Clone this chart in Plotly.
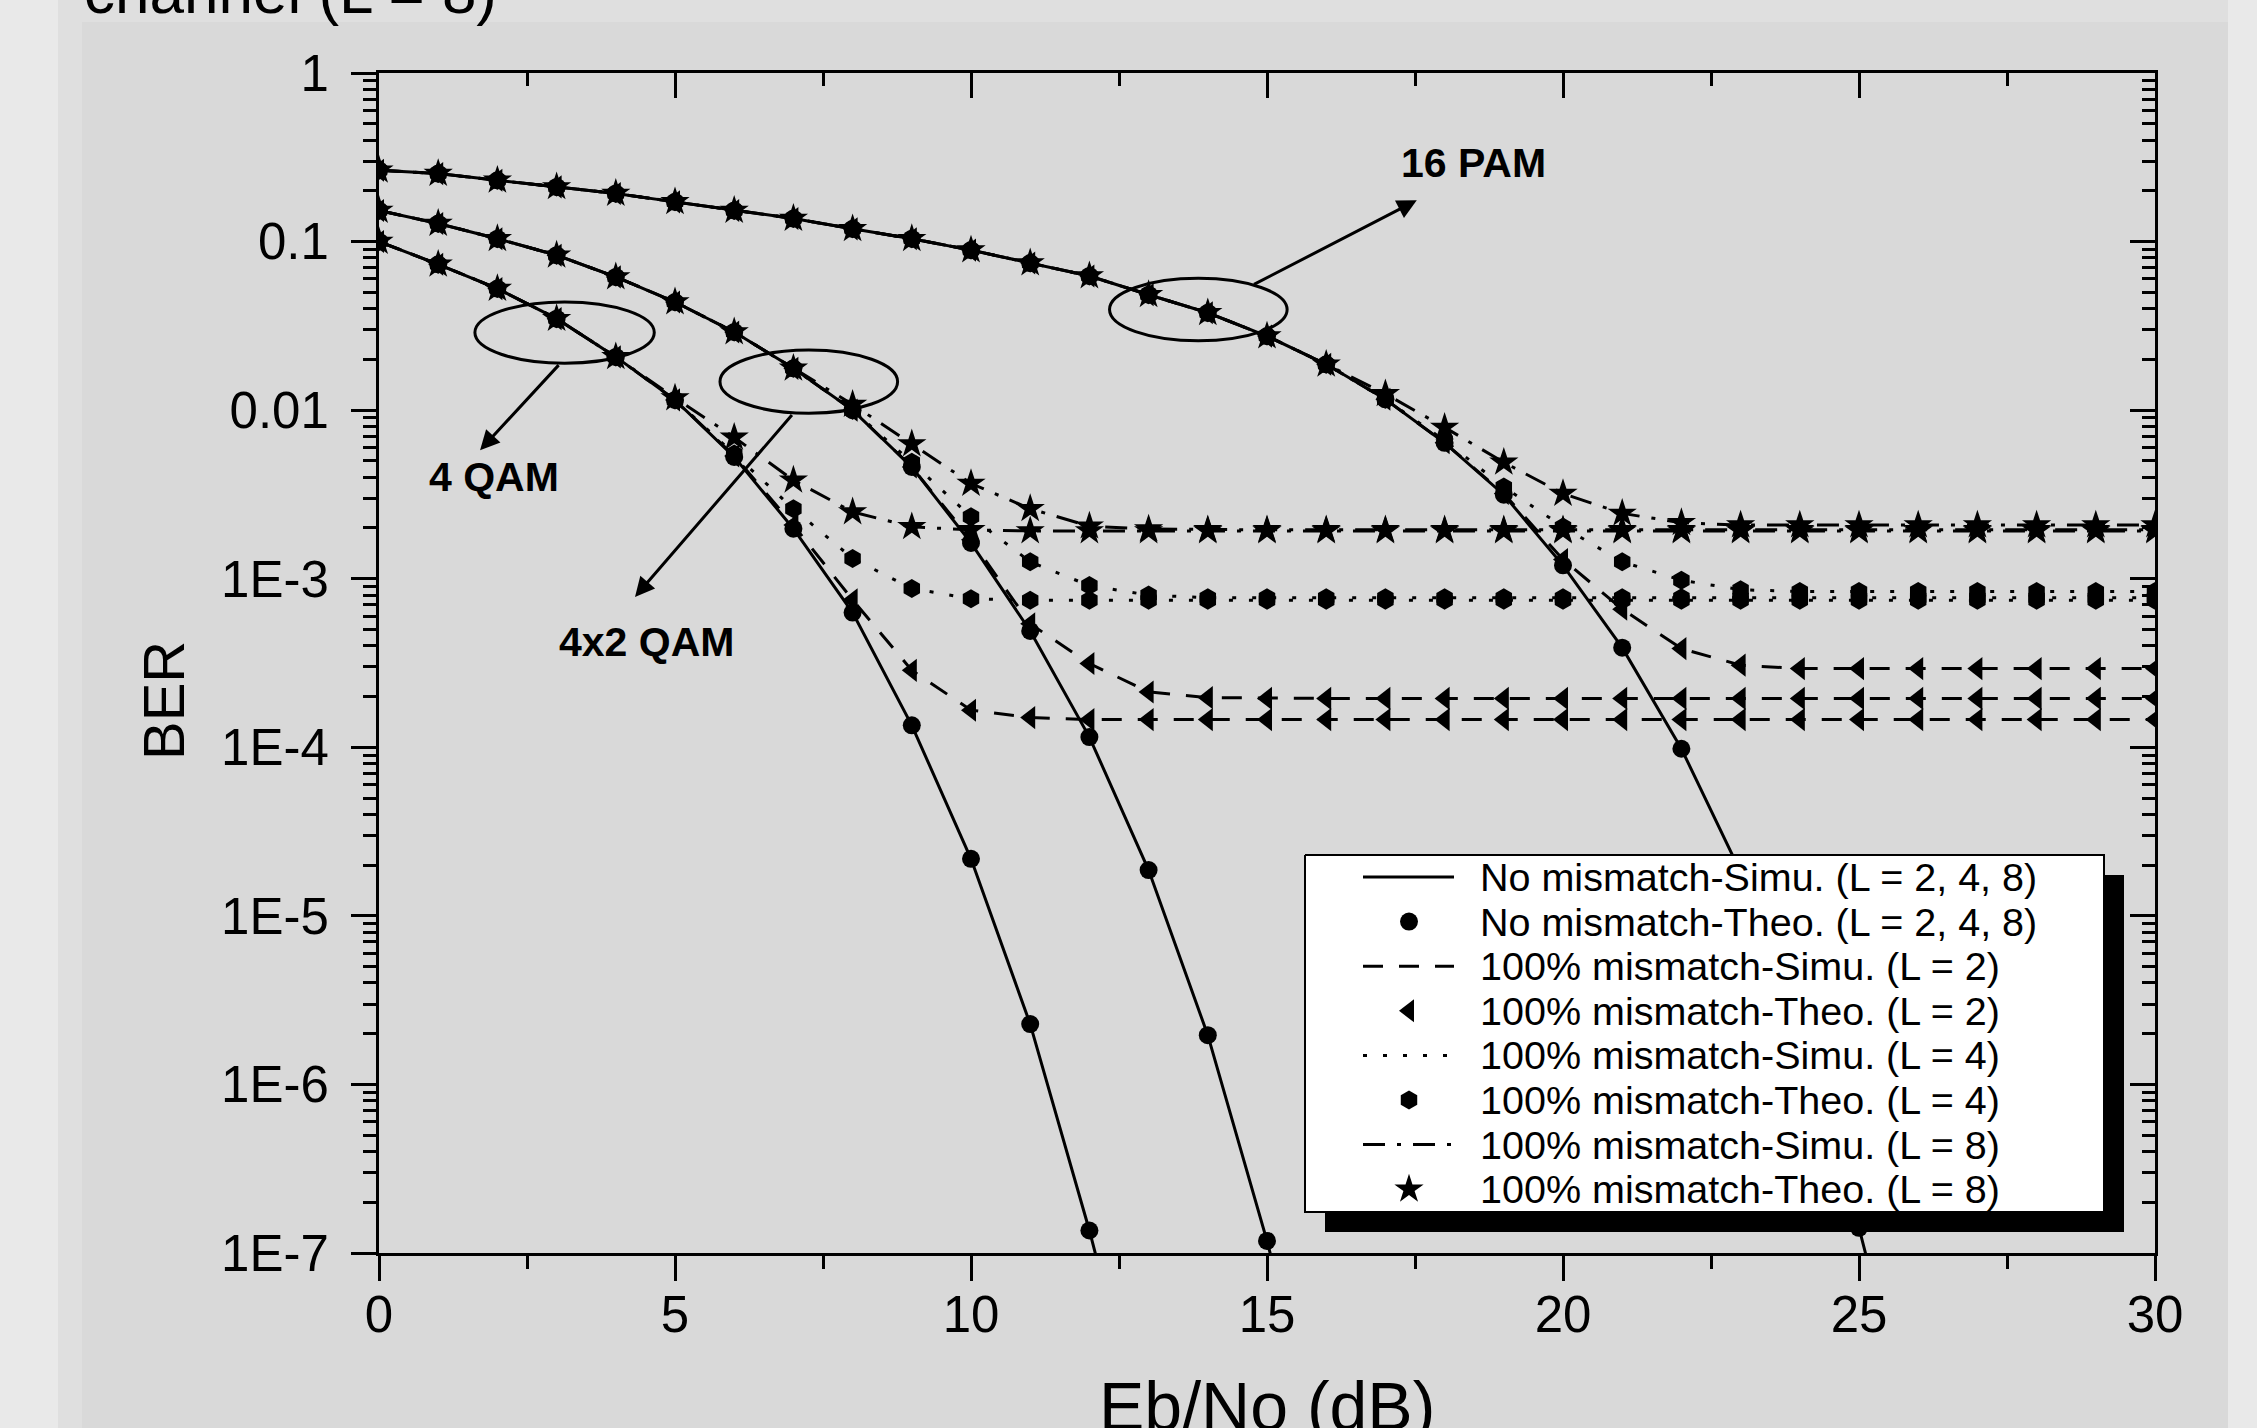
import plotly.graph_objects as go

# ---------------- data ----------------
snr = list(range(0, 31))  # Eb/No (dB)

# No mismatch (simulation line and theory markers coincide)
qam4_nm_x = list(range(0, 14))
qam4_nm = [0.100, 0.0733, 0.0526, 0.0349, 0.0207, 0.0115, 0.00528, 0.00198,
           6.3e-4, 1.35e-4, 2.18e-5, 2.28e-6, 1.36e-7, 6e-9]
qam42_nm_x = list(range(0, 17))
qam42_nm = [0.153, 0.128, 0.104, 0.083, 0.0617, 0.0438, 0.0291, 0.0177, 0.0100,
            4.6e-3, 1.63e-3, 4.9e-4, 1.15e-4, 1.87e-5, 1.96e-6, 1.18e-7, 5e-9]
pam16_nm_x = list(range(0, 27))
pam16_nm = [0.265, 0.253, 0.231, 0.211, 0.193, 0.172, 0.153, 0.137, 0.119, 0.104,
            0.089, 0.0746, 0.0625, 0.0484, 0.0378, 0.0275, 0.0187, 0.0116, 6.4e-3,
            3.15e-3, 1.2e-3, 3.9e-4, 9.8e-5, 1.82e-5, 2.19e-6, 1.41e-7, 6e-9]

# 100% mismatch, L = 2
qam4_l2 = [0.100, 0.0733, 0.0526, 0.0349, 0.0207, 0.0115, 5.35e-3, 2.08e-3, 7.5e-4,
           2.86e-4, 1.66e-4, 1.50e-4, 1.46e-4, 1.46e-4, 1.46e-4, 1.46e-4, 1.46e-4,
           1.46e-4, 1.46e-4, 1.46e-4, 1.46e-4, 1.46e-4, 1.46e-4, 1.46e-4, 1.46e-4,
           1.46e-4, 1.46e-4, 1.46e-4, 1.46e-4, 1.46e-4, 1.46e-4]
qam42_l2 = [0.153, 0.128, 0.104, 0.083, 0.0617, 0.0438, 0.0291, 0.0177, 0.0100,
            4.6e-3, 1.7e-3, 5.4e-4, 3.14e-4, 2.13e-4, 1.97e-4, 1.95e-4, 1.95e-4,
            1.95e-4, 1.95e-4, 1.95e-4, 1.95e-4, 1.95e-4, 1.95e-4, 1.95e-4, 1.95e-4,
            1.95e-4, 1.95e-4, 1.95e-4, 1.95e-4, 1.95e-4, 1.95e-4]
pam16_l2 = [0.265, 0.253, 0.231, 0.211, 0.193, 0.172, 0.153, 0.137, 0.119, 0.104,
            0.089, 0.0746, 0.0625, 0.0484, 0.0378, 0.0275, 0.0187, 0.0116, 6.4e-3,
            3.2e-3, 1.3e-3, 6.6e-4, 3.85e-4, 3.07e-4, 2.93e-4, 2.93e-4, 2.93e-4,
            2.93e-4, 2.93e-4, 2.93e-4, 2.93e-4]

# 100% mismatch, L = 4
qam4_l4 = [0.100, 0.0733, 0.0526, 0.0349, 0.0207, 0.0115, 5.5e-3, 2.6e-3, 1.32e-3,
           8.75e-4, 7.6e-4, 7.45e-4, 7.45e-4, 7.45e-4, 7.45e-4, 7.45e-4, 7.45e-4,
           7.45e-4, 7.45e-4, 7.45e-4, 7.45e-4, 7.45e-4, 7.45e-4, 7.45e-4, 7.45e-4,
           7.45e-4, 7.45e-4, 7.45e-4, 7.45e-4, 7.45e-4, 7.45e-4]
qam42_l4 = [0.153, 0.128, 0.104, 0.083, 0.0617, 0.0438, 0.0291, 0.0177, 0.0100,
            4.9e-3, 2.33e-3, 1.26e-3, 9.1e-4, 8.0e-4, 7.7e-4, 7.7e-4, 7.7e-4,
            7.7e-4, 7.7e-4, 7.7e-4, 7.7e-4, 7.7e-4, 7.7e-4, 7.7e-4, 7.7e-4,
            7.7e-4, 7.7e-4, 7.7e-4, 7.7e-4, 7.7e-4, 7.7e-4]
pam16_l4 = [0.265, 0.253, 0.231, 0.211, 0.193, 0.172, 0.153, 0.137, 0.119, 0.104,
            0.089, 0.0746, 0.0625, 0.0484, 0.0378, 0.0275, 0.0187, 0.0116, 6.6e-3,
            3.5e-3, 2.03e-3, 1.26e-3, 9.8e-4, 8.6e-4, 8.4e-4, 8.4e-4, 8.4e-4,
            8.4e-4, 8.4e-4, 8.4e-4, 8.4e-4]

# 100% mismatch, L = 8
qam4_l8 = [0.100, 0.0733, 0.0526, 0.0349, 0.0207, 0.0118, 6.9e-3, 3.84e-3, 2.49e-3,
           2.03e-3, 1.95e-3, 1.92e-3, 1.92e-3, 1.92e-3, 1.92e-3, 1.92e-3, 1.92e-3,
           1.92e-3, 1.92e-3, 1.92e-3, 1.92e-3, 1.92e-3, 1.92e-3, 1.92e-3, 1.92e-3,
           1.92e-3, 1.92e-3, 1.92e-3, 1.92e-3, 1.92e-3, 1.92e-3]
qam42_l8 = [0.153, 0.128, 0.104, 0.083, 0.0617, 0.0438, 0.0291, 0.0177, 0.0108,
            6.3e-3, 3.67e-3, 2.6e-3, 2.05e-3, 1.97e-3, 1.95e-3, 1.95e-3, 1.95e-3,
            1.95e-3, 1.95e-3, 1.95e-3, 1.95e-3, 1.95e-3, 1.95e-3, 1.95e-3, 1.95e-3,
            1.95e-3, 1.95e-3, 1.95e-3, 1.95e-3, 1.95e-3, 1.95e-3]
pam16_l8 = [0.265, 0.253, 0.231, 0.211, 0.193, 0.172, 0.153, 0.137, 0.119, 0.104,
            0.089, 0.0746, 0.0625, 0.0484, 0.0378, 0.0275, 0.0187, 0.0125, 7.9e-3,
            4.9e-3, 3.2e-3, 2.44e-3, 2.15e-3, 2.08e-3, 2.08e-3, 2.08e-3, 2.08e-3,
            2.08e-3, 2.08e-3, 2.08e-3, 2.08e-3]

legend_names = [
    "No mismatch-Simu. (L = 2, 4, 8)",
    "No mismatch-Theo. (L = 2, 4, 8)",
    "100% mismatch-Simu. (L = 2)",
    "100% mismatch-Theo. (L = 2)",
    "100% mismatch-Simu. (L = 4)",
    "100% mismatch-Theo. (L = 4)",
    "100% mismatch-Simu. (L = 8)",
    "100% mismatch-Theo. (L = 8)",
]

x_ticks = [0, 5, 10, 15, 20, 25, 30]
x_minor = [2.5, 7.5, 12.5, 17.5, 22.5, 27.5]
y_ticks = [1, 0.1, 0.01, 1e-3, 1e-4, 1e-5, 1e-6, 1e-7]
y_ticktext = ["1", "0.1", "0.01", "1E-3", "1E-4", "1E-5", "1E-6", "1E-7"]
y_minor = [m * 10.0 ** e for e in range(-7, 0) for m in range(2, 10)]

# ---------------- styling / layout constants ----------------
FONT = "Liberation Sans, Arial, sans-serif"
BLACK = "black"
W, H = 2257, 1428
ML, MR, MT, MB = 379, 102, 73, 175
PW, PH = W - ML - MR, H - MT - MB


def px(X):  # figure pixel -> paper x
    return (X - ML) / PW


def py(Y):  # figure pixel -> paper y
    return (H - MB - Y) / PH


LW = 3
DASH = "20px,16px"
DOT = "4px,16px"
DASHDOT = "22px,12px,4px,12px"

fig = go.Figure()

nm_sets = [(qam4_nm_x, qam4_nm), (qam42_nm_x, qam42_nm), (pam16_nm_x, pam16_nm)]
mm_sets = {
    2: [qam4_l2, qam42_l2, pam16_l2],
    4: [qam4_l4, qam42_l4, pam16_l4],
    8: [qam4_l8, qam42_l8, pam16_l8],
}
styles = {  # line dash, marker symbol, marker size, legend index
    0: ("solid", "circle", 18, 0),
    2: (DASH, "triangle-left", 20, 2),
    4: (DOT, "hexagon", 19, 4),
    8: (DASHDOT, "star", 22, 6),
}

for xs, ys in nm_sets:
    fig.add_trace(go.Scatter(x=xs, y=ys, mode="lines", name=legend_names[0],
                             line=dict(color=BLACK, width=LW)))
for xs, ys in nm_sets:
    fig.add_trace(go.Scatter(x=xs, y=ys, mode="markers", name=legend_names[1],
                             marker=dict(symbol="circle", size=18, color=BLACK)))
for L in (2, 4, 8):
    dash, sym, msize, k = styles[L]
    for ys in mm_sets[L]:
        fig.add_trace(go.Scatter(x=snr, y=ys, mode="lines", name=legend_names[k],
                                 line=dict(color=BLACK, width=LW, dash=dash)))
    for ys in mm_sets[L]:
        fig.add_trace(go.Scatter(x=snr, y=ys, mode="markers", name=legend_names[k + 1],
                                 marker=dict(symbol=sym, size=msize, color=BLACK)))

# helper trace so the mirrored (inward-tick) top/right axes are drawn
fig.add_trace(go.Scatter(x=[0], y=[0.5], mode="lines", xaxis="x2", yaxis="y2",
                         hoverinfo="skip", line=dict(color="rgba(0,0,0,0)")))

# ---------------- legend box (drawn on an overlay axis in 0..1 units) ----------------
LEG_BOX = (1305, 855, 2104, 1212)     # left, top, right, bottom (figure px)
LEG_SHADOW = 20
LEG_ROW0, LEG_ROWSTEP = 877, 44.6
LEG_LINE = (1363, 1454)
LEG_MARK_X = 1409
LEG_TEXT_X = 1478

l, t, r, b = LEG_BOX
s = LEG_SHADOW
fig.add_trace(go.Scatter(x=[px(l + s), px(r + s), px(r + s), px(l + s), px(l + s)],
                         y=[py(t + s), py(t + s), py(b + s), py(b + s), py(t + s)],
                         xaxis="x3", yaxis="y3", mode="lines", fill="toself",
                         fillcolor=BLACK, line=dict(width=0, color=BLACK),
                         hoverinfo="skip"))
fig.add_trace(go.Scatter(x=[px(l), px(r), px(r), px(l), px(l)],
                         y=[py(t), py(t), py(b), py(b), py(t)],
                         xaxis="x3", yaxis="y3", mode="lines", fill="toself",
                         fillcolor="white", line=dict(width=2, color=BLACK),
                         hoverinfo="skip"))
for L in (0, 2, 4, 8):
    dash, sym, msize, k = styles[L]
    yl = py(LEG_ROW0 + k * LEG_ROWSTEP)
    ym = py(LEG_ROW0 + (k + 1) * LEG_ROWSTEP)
    fig.add_trace(go.Scatter(x=[px(LEG_LINE[0]), px(LEG_LINE[1])], y=[yl, yl],
                             xaxis="x3", yaxis="y3", mode="lines", hoverinfo="skip",
                             line=dict(color=BLACK, width=LW, dash=dash)))
    fig.add_trace(go.Scatter(x=[px(LEG_MARK_X)], y=[ym], xaxis="x3", yaxis="y3",
                             mode="markers", hoverinfo="skip",
                             marker=dict(symbol=sym, size=msize, color=BLACK)))
for k, name in enumerate(legend_names):
    fig.add_annotation(x=px(LEG_TEXT_X), y=py(LEG_ROW0 + k * LEG_ROWSTEP),
                       xref="paper", yref="paper", xanchor="left", yanchor="middle",
                       text=name, showarrow=False,
                       font=dict(family=FONT, size=39.5, color=BLACK))

# ---------------- axes ----------------
tickfont = dict(family=FONT, size=51, color=BLACK)
common_x = dict(range=[0, 30], showgrid=False, zeroline=False, showline=True,
                linecolor=BLACK, linewidth=3, tickvals=x_ticks, ticklen=25,
                tickwidth=3, tickcolor=BLACK)
common_y = dict(type="log", range=[-7, 0], showgrid=False, zeroline=False,
                showline=True, linecolor=BLACK, linewidth=3, tickvals=y_ticks,
                ticktext=y_ticktext, ticklen=25, tickwidth=3, tickcolor=BLACK)

fig.update_layout(
    width=W, height=H, autosize=False,
    margin=dict(l=ML, r=MR, t=MT, b=MB),
    paper_bgcolor="#e9e9e9",
    plot_bgcolor="#d9d9d9",
    font=dict(family=FONT, color=BLACK),
    showlegend=False,
    xaxis=dict(**common_x, ticks="outside", tickfont=tickfont,
               ticklabelstandoff=-10,
               minor=dict(tickvals=x_minor, ticks="outside", ticklen=13,
                          tickwidth=3, tickcolor=BLACK)),
    xaxis2=dict(**common_x, ticks="inside", overlaying="x", side="top",
                anchor="y", showticklabels=False,
                minor=dict(tickvals=x_minor, ticks="inside", ticklen=13,
                           tickwidth=3, tickcolor=BLACK)),
    yaxis=dict(**common_y, ticks="outside", tickfont=tickfont,
               ticklabelstandoff=12,
               minor=dict(tickvals=y_minor, ticks="outside", ticklen=13,
                          tickwidth=3, tickcolor=BLACK)),
    yaxis2=dict(**common_y, ticks="inside", overlaying="y", side="right",
                anchor="x", showticklabels=False,
                minor=dict(tickvals=y_minor, ticks="inside", ticklen=13,
                           tickwidth=3, tickcolor=BLACK)),
    xaxis3=dict(overlaying="x", range=[0, 1], visible=False, anchor="y3"),
    yaxis3=dict(overlaying="y", range=[0, 1], visible=False, anchor="x3"),
)

# background panels
fig.add_shape(type="rect", xref="paper", yref="paper", layer="below",
              x0=px(58), x1=px(2228), y0=py(1440), y1=py(-10),
              fillcolor="#dfdfdf", line=dict(width=0))
fig.add_shape(type="rect", xref="paper", yref="paper", layer="below",
              x0=px(82), x1=px(2228), y0=py(1440), y1=py(22),
              fillcolor="#d9d9d9", line=dict(width=0))

# ellipses around the curve groups (x in data units, y in paper units)
ellipses = [(1.62, 4.65, 0.754, 0.806), (5.76, 8.76, 0.7116, 0.7653),
            (12.34, 15.34, 0.7731, 0.826)]
for x0, x1, y0, y1 in ellipses:
    fig.add_shape(type="circle", xref="x", yref="paper", x0=x0, x1=x1, y0=y0, y1=y1,
                  line=dict(color=BLACK, width=3), layer="above")

# arrows (head x, head log10 y, tail x, tail log10 y)
arrows = [(1.707, -2.238, 3.058, -1.724), (4.324, -3.108, 6.997, -2.020),
          (17.53, -0.755, 14.755, -1.259)]
for hx, hy, tx, ty in arrows:
    fig.add_annotation(x=hx, y=hy, ax=tx, ay=ty, xref="x", yref="y",
                       axref="x", ayref="y", text="", showarrow=True,
                       arrowhead=2, arrowsize=1.3, arrowwidth=3, arrowcolor=BLACK)

labels = [("4 QAM", 1.94, -2.396), ("4x2 QAM", 4.52, -3.378), ("16 PAM", 18.48, -0.533)]
for txt, lx, ly in labels:
    fig.add_annotation(x=lx, y=ly, xref="x", yref="y", text="<b>%s</b>" % txt,
                       showarrow=False, xanchor="center", yanchor="middle",
                       font=dict(family=FONT, size=41, color=BLACK))

# axis titles and the clipped heading
fig.add_annotation(x=px(1267), y=py(1406), xref="paper", yref="paper",
                   xanchor="center", yanchor="middle",
                   text="Eb/No (dB)", showarrow=False,
                   font=dict(family=FONT, size=68, color=BLACK))
fig.add_annotation(x=px(163), y=py(701), xref="paper", yref="paper",
                   xanchor="center", yanchor="middle",
                   text="BER", textangle=-90, showarrow=False,
                   font=dict(family=FONT, size=58, color=BLACK))
fig.add_annotation(x=px(82), y=py(-9), xref="paper", yref="paper",
                   xanchor="left", yanchor="middle",
                   text="channel (L = 8)", showarrow=False,
                   font=dict(family=FONT, size=62, color=BLACK))

fig.write_html("out.html")
